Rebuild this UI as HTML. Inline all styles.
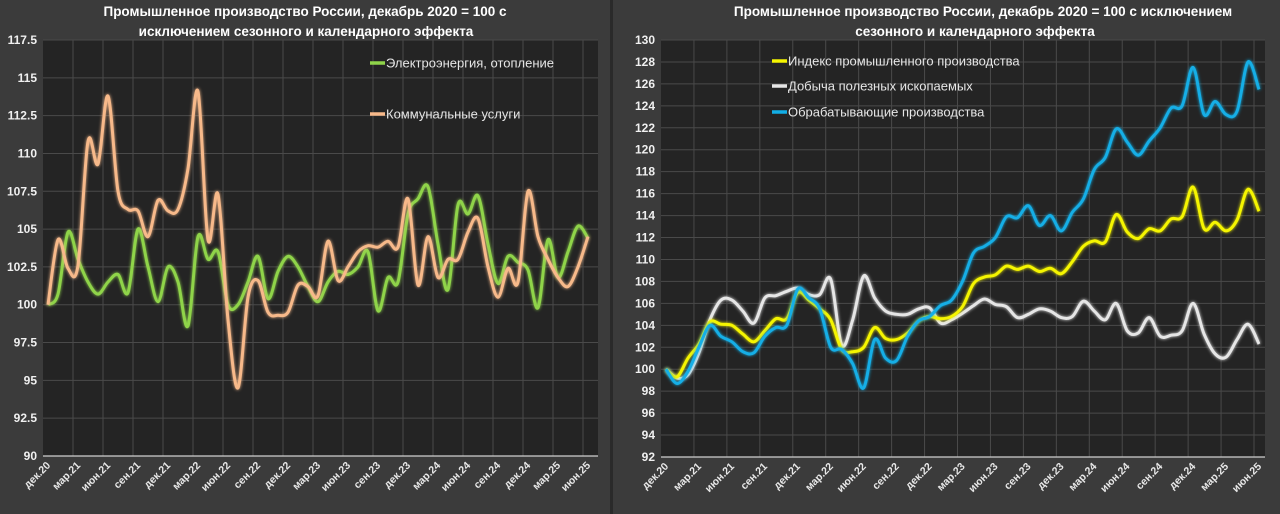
<!DOCTYPE html>
<html><head><meta charset="utf-8"><style>
html,body{margin:0;padding:0;background:#3a3a3a;}
svg{display:block;font-family:"Liberation Sans","DejaVu Sans",sans-serif;}
</style></head><body>
<svg id="c" width="1280" height="514" viewBox="0 0 1280 514" xmlns="http://www.w3.org/2000/svg">
<defs>
<filter id="glow" x="-5%" y="-5%" width="110%" height="110%"><feGaussianBlur stdDeviation="1.6" result="b"/><feMerge><feMergeNode in="b"/><feMergeNode in="SourceGraphic"/></feMerge></filter>
</defs>
<rect x="0" y="0" width="610" height="514" fill="#3b3b3b"/>
<rect x="610" y="0" width="3" height="514" fill="#2a2a2a"/>
<rect x="613" y="0" width="667" height="514" fill="#3b3b3b"/>
<text x="305" y="16" text-anchor="middle" fill="#fff" font-size="13.5" font-weight="bold">Промышленное производство России, декабрь 2020 = 100 с</text>
<text x="306" y="36" text-anchor="middle" fill="#fff" font-size="13.5" font-weight="bold">исключением сезонного и календарного эффекта</text>
<text x="983" y="16" text-anchor="middle" fill="#fff" font-size="13.5" font-weight="bold">Промышленное производство России, декабрь 2020 = 100 с исключением</text>
<text x="975" y="36" text-anchor="middle" fill="#fff" font-size="13.5" font-weight="bold">сезонного и календарного эффекта</text>
<g id="left"></g>
<g id="right"></g>
</svg>
<script>
const xLabels = ["дек.20","мар.21","июн.21","сен.21","дек.21","мар.22","июн.22","сен.22","дек.22","мар.23","июн.23","сен.23","дек.23","мар.24","июн.24","сен.24","дек.24","мар.25","июн.25"];
const leftTicks = [90,92.5,95,97.5,100,102.5,105,107.5,110,112.5,115,117.5];
const rightTicks = [92,94,96,98,100,102,104,106,108,110,112,114,116,118,120,122,124,126,128,130];
const elecHeat = [100,100.7,104.8,103,101.5,100.7,101.5,102,100.8,105,102.5,100.2,102.5,101.5,98.6,104.5,103,103.5,100,100,101.5,103.2,100.4,102.2,103.2,102.5,101.2,100.2,101.5,102.2,102,102.5,103.5,99.6,101.8,101.5,106,107,107.8,104,101,106.6,106,107.2,104,101.4,103.2,102.8,102.3,99.8,104.3,101.8,103.5,105.2,104.4];
const utilities = [100,104.3,102.4,102.6,110.8,109.3,113.8,107.5,106.3,106.2,104.5,106.9,106.2,106.3,109,114.1,104.3,107.3,99,94.5,100.5,101.6,99.5,99.3,99.5,101.3,101.2,100.6,104.2,101.6,102.5,103.5,103.9,103.8,104.2,103.8,107,101.3,104.5,101.8,103,103,104.8,105.7,102.5,100.5,102.4,101.5,107.5,104.5,103,101.8,101.2,102.5,104.5];
const industryIdx = [100,99.3,101,102.3,104.3,104.1,104,103.2,102.5,103.5,104.6,104.6,107,106.3,105.5,104.5,101.8,101.6,102,103.8,102.8,102.7,103.3,104.4,104.8,104.6,104.8,105.7,107.8,108.4,108.6,109.4,109.1,109.4,108.9,109.2,108.7,109.8,111.2,111.7,111.6,114.1,112.5,111.9,112.8,112.6,113.7,113.9,116.6,112.8,113.4,112.6,113.6,116.4,114.4];
const mining = [100,99.2,99.5,101.5,104.5,106.3,106.3,105.3,104.2,106.5,106.7,107.1,107.4,106.8,106.8,108.2,102.2,104.5,108.5,106.5,105.3,105,105,105.5,105.6,104.2,104.5,105.1,105.8,106.4,105.9,105.7,104.7,105,105.5,105.3,104.7,104.8,106.2,105.3,104.5,106,103.5,103.3,104.7,103,103.1,103.5,106,103.2,101.4,101.1,102.7,104.1,102.3];
const manufacturing = [100,98.7,99.8,102,104,103,102.5,101.6,101.5,103,103.8,104,107.3,106.5,105.5,102,101.8,100.5,98.3,102.7,101,100.8,103,104.4,104.8,105.8,106.3,108,110.6,111.2,112,113.9,113.8,114.9,113.1,114,112.6,114.3,115.5,118.2,119.3,121.9,120.7,119.5,120.8,122,123.8,124,127.5,123.2,124.4,123.2,123.5,128,125.5];

const NS="http://www.w3.org/2000/svg";
function mk(tag, attrs, parent){const e=document.createElementNS(NS,tag);for(const k in attrs)e.setAttribute(k,attrs[k]);parent.appendChild(e);return e;}
function smooth(pts){let d="M"+pts[0][0].toFixed(1)+","+pts[0][1].toFixed(1);
 for(let i=0;i<pts.length-1;i++){const p0=pts[i-1]||pts[i],p1=pts[i],p2=pts[i+1],p3=pts[i+2]||p2;
  const c1=[p1[0]+(p2[0]-p0[0])/6,p1[1]+(p2[1]-p0[1])/6],c2=[p2[0]-(p3[0]-p1[0])/6,p2[1]-(p3[1]-p1[1])/6];
  d+="C"+c1[0].toFixed(1)+","+c1[1].toFixed(1)+" "+c2[0].toFixed(1)+","+c2[1].toFixed(1)+" "+p2[0].toFixed(1)+","+p2[1].toFixed(1);}
 return d;}

function chart(g, cfg){
 const {left,right,top,bottom,x0,x1,ymin,ymax,ticks}=cfg;
 const X=i=>x0+(x1-x0)*i/54;
 const Y=v=>bottom-(v-ymin)/(ymax-ymin)*(bottom-top);
 const bg=mk("rect",{x:left,y:top,width:right-left,height:bottom-top,fill:"#242424"},g);
 
 
 ticks.forEach(t=>{
  const l=mk("line",{x1:left,x2:right,y1:Y(t),y2:Y(t),stroke:"#4a4a4a","stroke-width":1},g);
  
  
  const tx=mk("text",{x:left-6,y:Y(t)+4,"text-anchor":"end",fill:"#f0f0f0","font-size":"12","font-weight":"bold"},g);
  tx.textContent=String(t);
  
  
 });
 xLabels.forEach((lab,k)=>{
  const xi=X(k*3);
  if(k>0){const l=mk("line",{x1:xi-5,x2:xi-5,y1:top,y2:bottom,stroke:"#4a4a4a","stroke-width":1},g);
   
   }
  const tx=mk("text",{x:xi+3,y:bottom+10,"text-anchor":"end",fill:"#e8e8e8","font-size":"10.5","font-weight":"bold",transform:"rotate(-45 "+(xi+3)+" "+(bottom+10)+")"},g);
  tx.textContent=lab;
  
  
 });
 const ax=mk("line",{x1:left,x2:right,y1:bottom,y2:bottom,stroke:"#cfcfcf","stroke-width":1.2},g);
 
 
 cfg.series.forEach(s=>{
  const p=mk("path",{d:smooth(s.data.map((v,i)=>[X(i),Y(v)])),fill:"none",stroke:s.color,"stroke-width":3,"stroke-linejoin":"round",filter:"url(#glow)"},g);
  
  
 });
 cfg.legend.forEach(l=>{
  const ln=mk("line",{x1:l.x,x2:l.x+15,y1:l.y,y2:l.y,stroke:l.color,"stroke-width":3.5},g);
  
  
  const tx=mk("text",{x:l.x+16,y:l.y+4.5,fill:"#e6e6e6","font-size":"13"},g);
  tx.textContent=l.text;
  
  
 });
}
chart(document.getElementById('left'),{left:43,right:598,top:40,bottom:456,x0:48,x1:588,ymin:90,ymax:117.5,ticks:leftTicks,
 series:[{data:elecHeat,color:"#8fd44a",name:"line-electricity-heating"},{data:utilities,color:"#f7b98a",name:"line-utilities"}],
 legend:[{x:370,y:63,color:"#8fd44a",text:"Электроэнергия, отопление"},{x:370,y:114,color:"#f7b98a",text:"Коммунальные услуги"}]});
chart(document.getElementById('right'),{left:661,right:1265,top:40,bottom:457,x0:666,x1:1259,ymin:92,ymax:130,ticks:rightTicks,
 series:[{data:mining,color:"#e6e6e6",name:"line-mining"},{data:industryIdx,color:"#f5f500",name:"line-industrial-index"},{data:manufacturing,color:"#12aee6",name:"line-manufacturing"}],
 legend:[{x:772,y:61,color:"#f5f500",text:"Индекс промышленного производства"},{x:772,y:86,color:"#e6e6e6",text:"Добыча полезных ископаемых"},{x:772,y:112,color:"#12aee6",text:"Обрабатывающие производства"}]});
</script>
</body></html>
